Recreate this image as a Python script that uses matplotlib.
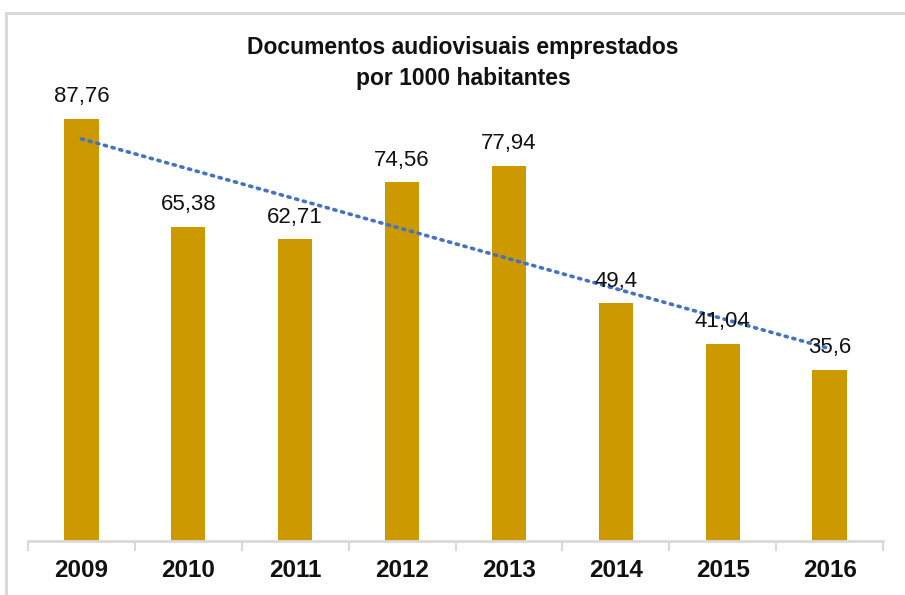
import numpy as np
import matplotlib.pyplot as plt
from matplotlib.patches import Rectangle

# dados
anos = ['2009', '2010', '2011', '2012', '2013', '2014', '2015', '2016']
valores = [87.76, 65.38, 62.71, 74.56, 77.94, 49.4, 41.04, 35.6]
rotulos = ['87,76', '65,38', '62,71', '74,56', '77,94', '49,4', '41,04', '35,6']

plt.rcParams['font.family'] = ['Liberation Sans', 'DejaVu Sans']

fig = plt.figure(figsize=(9.05, 5.95), dpi=100)
ax = fig.add_axes([28 / 905, 54 / 595, 855 / 905, 481 / 595])

x = np.arange(len(anos))
ax.bar(x, valores, width=0.32, color='#CC9900', zorder=2)

# linha de tendência linear (como no Excel)
coef = np.polyfit(x, valores, 1)
tend = np.polyval(coef, x)
ax.plot(x, tend, color='#4472C4', linewidth=2.6, linestyle=(0, (0.6, 1.6)),
        dash_capstyle='round', zorder=3)

# rótulos de dados
for xi, v, r in zip(x, valores, rotulos):
    ax.annotate(r, (xi, v), xytext=(0, 8.5), textcoords='offset points',
                ha='center', va='bottom', fontsize=16, color='#111111', zorder=4)

ax.set_xlim(-0.5, len(anos) - 0.5)
ax.set_ylim(0, 100)
ax.set_yticks([])
for s in ['top', 'right', 'left']:
    ax.spines[s].set_visible(False)
ax.spines['bottom'].set_color('#D9D9D9')
ax.spines['bottom'].set_linewidth(2)

# marcas entre categorias
ax.set_xticks(np.arange(len(anos) + 1) - 0.5)
ax.set_xticklabels([])
ax.tick_params(axis='x', length=7, width=1.5, color='#D9D9D9')
ax.set_xticks(x, minor=True)
ax.set_xticklabels(anos, minor=True, fontsize=17.5, fontweight='bold', color='#111111')
ax.tick_params(axis='x', which='minor', length=0, pad=13)

fig.text(463 / 905, 1 - 63 / 595, 'Documentos audiovisuais emprestados\npor 1000 habitantes',
         ha='center', va='center', fontsize=16.5, fontweight='bold', color='#111111',
         linespacing=1.45)

# moldura do gráfico
fig.patches.append(Rectangle((6 / 905, -0.1), 1.2, 1 - 13 / 595 + 0.1, transform=fig.transFigure,
                             fill=False, edgecolor='#D9D9D9', linewidth=2.2))

fig.savefig('out.png', dpi=100)
